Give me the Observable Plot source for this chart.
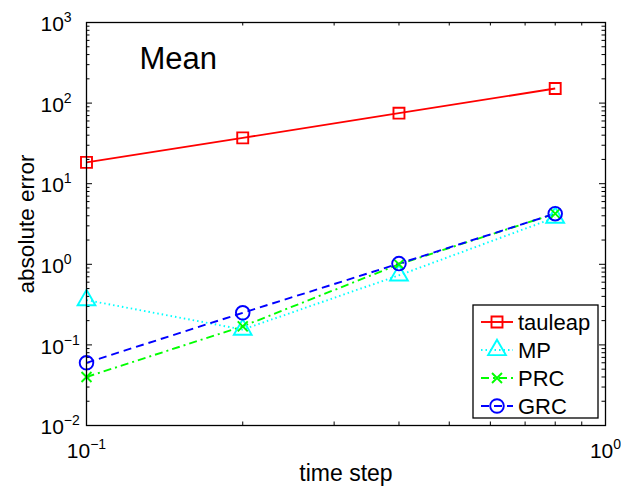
<!DOCTYPE html>
<html><head><meta charset="utf-8">
<script src="https://cdn.jsdelivr.net/npm/d3@7"></script>
<script src="https://cdn.jsdelivr.net/npm/@observablehq/plot@0.6"></script>
<style>
body{margin:0;background:#fff;}
svg{font-family:"Liberation Sans",Arial,Helvetica,sans-serif;}
</style>
</head><body><div id="chart"></div>
<script>
// ---- data ----
const timeSteps = [0.1, 0.2, 0.4, 0.8];
const tauleap = [18.4, 37, 75, 152];
const mp = [0.36, 0.155, 0.73, 3.8];
const prc = [0.04, 0.17, 1.0, 4.25];
const grc = [0.06, 0.25, 1.02, 4.25];
const seriesNames = ["tauleap", "MP", "PRC", "GRC"];
const seriesValues = [tauleap, mp, prc, grc];
const xTickValues = [0.1, 1];
const xTickExponents = ["\u22121", "0"];
const yTickValues = [0.01, 0.1, 1, 10, 100, 1000];
const yTickExponents = ["\u22122", "\u22121", "0", "1", "2", "3"];
const titleText = "Mean";
const xLabel = "time step";
const yLabel = "absolute error";

// ---- styles ----
const seriesColors = ["#ff0000", "#00ffff", "#00ff00", "#0000ff"];
const seriesSymbols = ["square", "triangle", "times", "circle"];
const seriesRadius = [6.2, 6.6, 4.6, 6.8];
const seriesDash = [null, "1.5,3", "8,4,2,4", "8,5"];

const W = 621, H = 488, mL = 86, mR = 16, mT = 22, mB = 63;
const frameW = W - mL - mR, frameH = H - mT - mB;
const majorLen = 6, minorLen = 3.5;

const xMinor = [];
for (let k = 2; k <= 9; k++) xMinor.push(k / 10);
const yMinor = [];
for (let e = -2; e < 3; e++) for (let k = 2; k <= 9; k++) yMinor.push(k * Math.pow(10, e));

const marks = [];
// ticks (inward, all four sides)
marks.push(Plot.tickX(xMinor, {x: d => d, insetTop: frameH - minorLen, stroke: "black", strokeWidth: 1}));
marks.push(Plot.tickX(xMinor, {x: d => d, insetBottom: frameH - minorLen, stroke: "black", strokeWidth: 1}));
marks.push(Plot.tickY(yMinor, {y: d => d, insetRight: frameW - minorLen, stroke: "black", strokeWidth: 1}));
marks.push(Plot.tickY(yMinor, {y: d => d, insetLeft: frameW - minorLen, stroke: "black", strokeWidth: 1}));
marks.push(Plot.tickY(yTickValues, {y: d => d, insetRight: frameW - majorLen, stroke: "black", strokeWidth: 1}));
marks.push(Plot.tickY(yTickValues, {y: d => d, insetLeft: frameW - majorLen, stroke: "black", strokeWidth: 1}));

// series
seriesNames.forEach((name, i) => {
  const rows = timeSteps.map((t, j) => ({t, v: seriesValues[i][j]}));
  marks.push(Plot.line(rows, {x: "t", y: "v", stroke: seriesColors[i], strokeWidth: 1.9,
    strokeDasharray: seriesDash[i] || undefined, strokeLinecap: "butt"}));
});
seriesNames.forEach((name, i) => {
  const rows = timeSteps.map((t, j) => ({t, v: seriesValues[i][j]}));
  marks.push(Plot.dot(rows, {x: "t", y: "v", symbol: () => seriesSymbols[i], r: seriesRadius[i],
    stroke: seriesColors[i], strokeWidth: 1.9, fill: "none"}));
});

marks.push(Plot.frame({stroke: "black", strokeWidth: 1.3}));

// tick labels (exponent after ^ becomes a superscript tspan)
marks.push(Plot.text(yTickValues, {y: d => d, text: (d, i) => "10^" + yTickExponents[i],
  frameAnchor: "left", textAnchor: "start", lineAnchor: "middle", dx: -46, dy: 2, fontSize: 21, fill: "black"}));
marks.push(Plot.text(xTickValues, {x: d => d, text: (d, i) => "10^" + xTickExponents[i],
  frameAnchor: "bottom", textAnchor: "middle", lineAnchor: "bottom", dy: 32, fontSize: 21, fill: "black"}));

// axis labels and title
marks.push(Plot.text([xLabel], {frameAnchor: "bottom", textAnchor: "middle", lineAnchor: "bottom", dy: 55, fontSize: 23, fill: "black"}));
marks.push(Plot.text([yLabel], {frameAnchor: "left", textAnchor: "middle", lineAnchor: "bottom", rotate: -90, dx: -53, fontSize: 22.5, fill: "black"}));
marks.push(Plot.text([titleText], {frameAnchor: "top-left", textAnchor: "start", lineAnchor: "bottom", dx: 53, dy: 46, fontSize: 31, fill: "black"}));

const svg = Plot.plot({
  width: W, height: H,
  marginLeft: mL, marginRight: mR, marginTop: mT, marginBottom: mB,
  x: {type: "log", domain: [0.1, 1], axis: null},
  y: {type: "log", domain: [0.01, 1000], axis: null},
  style: {fontFamily: "Liberation Sans, Arial, Helvetica, sans-serif", background: "white", overflow: "visible"},
  marks
});

// superscripts
d3.select(svg).selectAll("text").each(function() {
  const t = this.textContent;
  if (t.includes("^")) {
    const [base, exp] = t.split("^");
    const sel = d3.select(this);
    sel.text(base);
    sel.append("tspan").attr("dy", -9).attr("font-size", 14).text(exp);
  }
});

// legend
const lg = d3.select(svg).append("g").attr("class", "legend");
const lgRight = W - mR - 7, lgBottom = H - mB - 7;
const lgW = 125, lgH = 113;
const lgX = lgRight - lgW, lgY = lgBottom - lgH;
lg.append("rect").attr("x", lgX).attr("y", lgY).attr("width", lgW).attr("height", lgH)
  .attr("fill", "white").attr("stroke", "black").attr("stroke-width", 1.3);
const symMap = {square: d3.symbolSquare, triangle: d3.symbolTriangle, times: d3.symbolTimes || d3.symbolCross, circle: d3.symbolCircle};
seriesNames.forEach((name, i) => {
  const cy = lgY + 17 + i * 28;
  lg.append("line").attr("x1", lgX + 8).attr("x2", lgX + 40).attr("y1", cy).attr("y2", cy)
    .attr("stroke", seriesColors[i]).attr("stroke-width", 1.9)
    .attr("stroke-dasharray", seriesDash[i] || null);
  const r = seriesRadius[i];
  lg.append("path").attr("d", d3.symbol(symMap[seriesSymbols[i]], r * r * Math.PI)())
    .attr("transform", `translate(${lgX + 24},${cy})`)
    .attr("fill", "none").attr("stroke", seriesColors[i]).attr("stroke-width", 1.9);
  lg.append("text").attr("x", lgX + 45).attr("y", cy).attr("dy", "0.35em")
    .attr("text-anchor", "start")
    .attr("font-size", 22).attr("fill", "black").text(name);
});

document.getElementById("chart").appendChild(svg);
</script>
</body></html>
